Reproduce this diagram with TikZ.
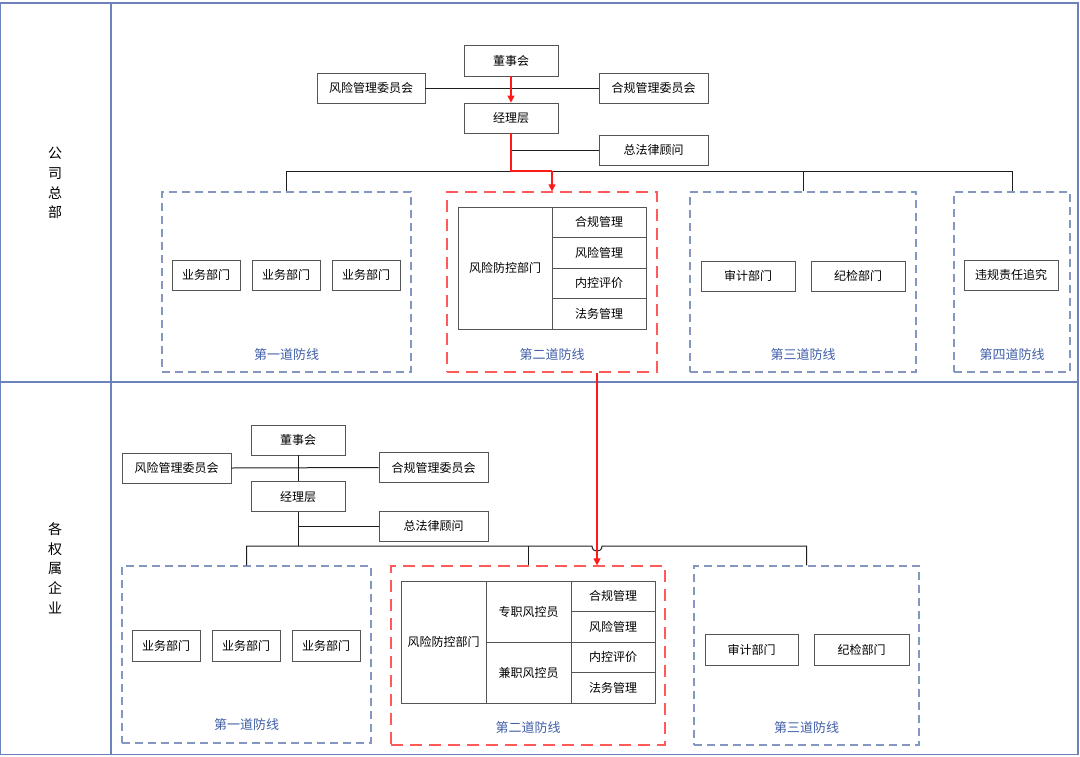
\documentclass[tikz,border=0pt]{standalone}
\usepackage{fontspec}
\setmainfont{Noto Sans CJK SC}
\usetikzlibrary{arrows.meta}
\definecolor{frameblue}{HTML}{6C82BA}
\definecolor{dashblue}{HTML}{8497C0}
\definecolor{labelblue}{HTML}{3F5EA8}
\definecolor{dashred}{HTML}{FF5A5A}
\definecolor{arrowred}{HTML}{FF1A1A}
\definecolor{boxgray}{HTML}{555555}
\definecolor{linegray}{HTML}{1E1E1E}
\tikzset{
  x=1pt,y=-1pt,
  box/.style={draw=boxgray,line width=0.8pt,inner sep=0pt,font=\fontsize{12}{14}\selectfont,text=black},
  cell/.style={draw=boxgray,line width=0.8pt,inner sep=0pt,font=\fontsize{12}{14}\selectfont,text=black},
  bluezone/.style={draw=dashblue,line width=1.3pt,dash pattern=on 8pt off 5pt,inner sep=0pt},
  redzone/.style={draw=dashred,line width=1.3pt,dash pattern=on 12pt off 7pt,inner sep=0pt},
  zonelabel/.style={font=\fontsize{13}{15}\selectfont,text=labelblue},
  conn/.style={draw=linegray,line width=1pt},
  redarrow/.style={draw=arrowred,line width=1.2pt,-{Triangle[width=7pt,length=7pt]}},
  redline/.style={draw=arrowred,line width=1.2pt},
  frame/.style={draw=frameblue,line width=1.3pt},
  sidelabel/.style={font=\fontsize{14}{19.7}\selectfont,align=center,text=black}
}
\begin{document}
\begin{tikzpicture}
\useasboundingbox (0,0) rectangle (1080,756);
% frame
\draw[frame] (0.7,3) rectangle (1078,754.5);
\draw[frame] (111,3) -- (111,754.5);
\draw[frame] (0.7,382) -- (1078,382);
\node[sidelabel] (hq) at (55,183) {公\\司\\总\\部};
\node[sidelabel] (sub) at (55,568) {各\\权\\属\\企\\业};

% ===== top section =====
\node[box,minimum width=94,minimum height=31] (board) at (511,60.5) {董事会};
\node[box,minimum width=108,minimum height=30] (risk) at (371,88) {风险管理委员会};
\node[box,minimum width=109,minimum height=30] (comp) at (653.5,88) {合规管理委员会};
\node[box,minimum width=94,minimum height=30] (mgr) at (511,118) {经理层};
\node[box,minimum width=109,minimum height=30] (law) at (653.5,150) {总法律顾问};
\coordinate (t) at (511,171);

\node[bluezone,minimum width=249,minimum height=180] (l1) at (286.5,282) {};
\node[redzone,minimum width=210,minimum height=180] (l2) at (552,282) {};
\node[bluezone,minimum width=226,minimum height=180] (l3) at (803,282) {};
\node[bluezone,minimum width=116,minimum height=180] (l4) at (1012,282) {};

\node[zonelabel] (l1t) at (286.5,355) {第一道防线};
\node[zonelabel] (l2t) at (552,355) {第二道防线};
\node[zonelabel] (l3t) at (803,355) {第三道防线};
\node[zonelabel] (l4t) at (1012,355) {第四道防线};

\node[box,minimum width=68,minimum height=30] (u1) at (206,275) {业务部门};
\node[box,minimum width=68,minimum height=30] (u2) at (286,275) {业务部门};
\node[box,minimum width=68,minimum height=30] (u3) at (366,275) {业务部门};

\node[cell,minimum width=94,minimum height=122] (rc) at (505,268) {风险防控部门};
\node[cell,minimum width=94,minimum height=30.5] (r1) at (599,222.25) {合规管理};
\node[cell,minimum width=94,minimum height=30.5] (r2) at (599,252.75) {风险管理};
\node[cell,minimum width=94,minimum height=30.5] (r3) at (599,283.25) {内控评价};
\node[cell,minimum width=94,minimum height=30.5] (r4) at (599,313.75) {法务管理};

\node[box,minimum width=94,minimum height=30] (audit) at (748,276) {审计部门};
\node[box,minimum width=94,minimum height=30] (disc) at (858,276) {纪检部门};
\node[box,minimum width=94,minimum height=30] (viol) at (1011,275) {违规责任追究};

% top connectors
\draw[conn] (risk.east) -- (comp.west);
\draw[conn] (mgr.south |- law.west) -- (law.west);
\draw[conn] (l1.north) -- (l1.north |- t) -- (l4.north |- t) -- (l4.north);
\draw[conn] (l3.north |- t) -- (l3.north);
\draw[redarrow] (board.south) -- (mgr.north);
\draw[redline] (mgr.south) -- (t) -- (l2.north |- t);
\draw[redarrow] (l2.north |- t) -- (l2.north);

% ===== bottom section =====
\node[box,minimum width=94,minimum height=30] (bboard) at (298,440) {董事会};
\node[box,minimum width=109,minimum height=30] (brisk) at (176.5,468) {风险管理委员会};
\node[box,minimum width=109,minimum height=30] (bcomp) at (433.5,467.5) {合规管理委员会};
\node[box,minimum width=94,minimum height=30] (bmgr) at (298,496.5) {经理层};
\node[box,minimum width=109,minimum height=30] (blaw) at (433.5,526) {总法律顾问};
\coordinate (bt) at (298,546);
\coordinate (rx) at (597,0);

\node[bluezone,minimum width=249,minimum height=177] (b1) at (246.5,654.5) {};
\node[redzone,minimum width=274,minimum height=179] (b2) at (528,655.5) {};
\node[bluezone,minimum width=225,minimum height=179] (b3) at (806.5,655.5) {};

\node[zonelabel] (b1t) at (246.5,725) {第一道防线};
\node[zonelabel] (b2t) at (528,728) {第二道防线};
\node[zonelabel] (b3t) at (806.5,728) {第三道防线};

\node[box,minimum width=68,minimum height=31] (bu1) at (166,645.5) {业务部门};
\node[box,minimum width=68,minimum height=31] (bu2) at (246,645.5) {业务部门};
\node[box,minimum width=68,minimum height=31] (bu3) at (326,645.5) {业务部门};

\node[cell,minimum width=85,minimum height=122] (brc) at (443.5,642) {风险防控部门};
\node[cell,minimum width=85,minimum height=61] (bf1) at (528.5,611.5) {专职风控员};
\node[cell,minimum width=85,minimum height=61] (bf2) at (528.5,672.5) {兼职风控员};
\node[cell,minimum width=84,minimum height=30.5] (bs1) at (613,596.25) {合规管理};
\node[cell,minimum width=84,minimum height=30.5] (bs2) at (613,626.75) {风险管理};
\node[cell,minimum width=84,minimum height=30.5] (bs3) at (613,657.25) {内控评价};
\node[cell,minimum width=84,minimum height=30.5] (bs4) at (613,687.75) {法务管理};

\node[box,minimum width=93,minimum height=31] (baudit) at (751.5,649.5) {审计部门};
\node[box,minimum width=95,minimum height=31] (bdisc) at (861.5,649.5) {纪检部门};

% bottom connectors
\draw[conn] (bboard.south) -- (bmgr.north);
\draw[conn] (brisk.east) -- (bcomp.west);
\draw[conn] (bmgr.south |- blaw.west) -- (blaw.west);
\draw[conn] (bmgr.south) -- (bt);
\draw[conn] (b1.north) -- (b1.north |- bt) -- ([xshift=-5pt]rx |- bt)
  .. controls ([xshift=-5pt,yshift=-7pt]rx |- bt) and ([xshift=5pt,yshift=-7pt]rx |- bt) .. ([xshift=5pt]rx |- bt)
  -- (b3.north |- bt) -- (b3.north);
\draw[conn] (b2.north |- bt) -- (b2.north);

% red link between sections
\draw[redarrow] (rx |- l2.south) -- (rx |- b2.north);
\end{tikzpicture}
\end{document}
